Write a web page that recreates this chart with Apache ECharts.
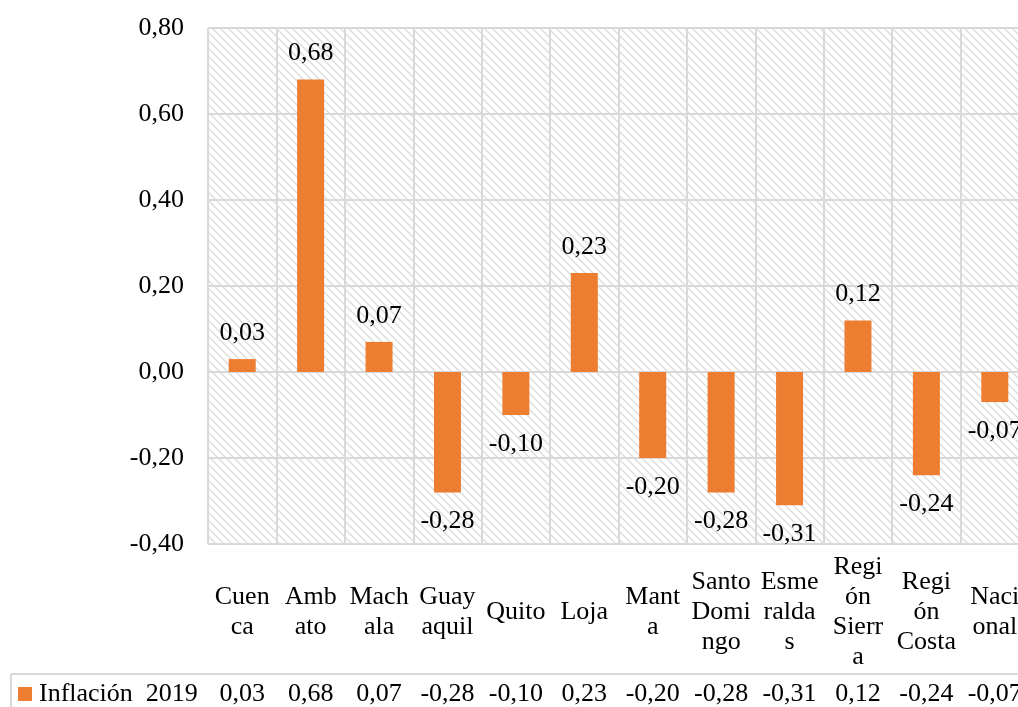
<!DOCTYPE html>
<html>
<head>
<meta charset="utf-8">
<style>
  html, body { margin: 0; padding: 0; background: #ffffff; overflow: hidden; }
  #chart { width: 1029px; height: 707px; }
</style>
<script src="https://cdn.jsdelivr.net/npm/echarts@6/dist/echarts.min.js"></script>
</head>
<body>
<div id="chart"></div>
<script>
// Inflación anual 2019 por ciudad y región
const categories = ['Cuenca', 'Ambato', 'Machala', 'Guayaquil', 'Quito', 'Loja', 'Manta',
  'Santo Domingo', 'Esmeraldas', 'Región Sierra', 'Región Costa', 'Nacional'];
const categoryLabels = ['Cuen\nca', 'Amb\nato', 'Mach\nala', 'Guay\naquil', 'Quito', 'Loja', 'Mant\na',
  'Santo\nDomi\nngo', 'Esme\nralda\ns', 'Regi\nón\nSierr\na', 'Regi\nón\nCosta', 'Naci\nonal'];
const inflacion2019 = [0.03, 0.68, 0.07, -0.28, -0.10, 0.23, -0.20, -0.28, -0.31, 0.12, -0.24, -0.07];
const seriesName = 'Inflación 2019';
const yTicks = { min: -0.4, max: 0.8, interval: 0.2 };

const fmt = v => v.toFixed(2).replace('.', ',');
const FONT = '"Liberation Serif", "Times New Roman", serif';
const GRID_COLOR = '#d9d9d9';

// diagonal hatch tile for the plot background
function hatchTile() {
  const c = document.createElement('canvas');
  c.width = 8; c.height = 8;
  const g = c.getContext('2d');
  g.fillStyle = '#ffffff';
  g.fillRect(0, 0, 8, 8);
  g.strokeStyle = '#dedede';
  g.lineWidth = 1.5;
  g.beginPath();
  g.moveTo(-1, -1); g.lineTo(9, 9);
  g.moveTo(-1, 7); g.lineTo(1, 9);
  g.moveTo(7, -1); g.lineTo(9, 1);
  g.stroke();
  return c;
}

const chart = echarts.init(document.getElementById('chart'), null, { renderer: 'canvas' });

chart.setOption({
  animation: false,
  textStyle: { fontFamily: FONT },
  grid: {
    left: 208, top: 28, right: 0, bottom: 162,
    show: true,
    borderWidth: 0,
    backgroundColor: { image: hatchTile(), repeat: 'repeat' }
  },
  legend: {
    show: true,
    left: 18, top: 681,
    icon: 'rect',
    itemWidth: 14, itemHeight: 14, itemGap: 0,
    padding: 0,
    textStyle: { fontFamily: FONT, fontSize: 26, color: '#000', padding: [0, 0, 0, 2] },
    formatter: () => 'Inflación  2019',
    data: [seriesName]
  },
  xAxis: [
    {
      type: 'category',
      data: categories,
      position: 'bottom',
      axisLine: { show: true, lineStyle: { color: GRID_COLOR, width: 2 } },
      axisTick: { show: true, length: 162, lineStyle: { color: GRID_COLOR, width: 2 } },
      splitLine: { show: true, lineStyle: { color: GRID_COLOR, width: 2 } },
      axisLabel: {
        interval: 0,
        margin: 68,
        verticalAlign: 'middle',
        lineHeight: 30,
        fontFamily: FONT, fontSize: 26, color: '#000',
        formatter: (v, i) => categoryLabels[i]
      }
    },
    {
      type: 'category',
      data: inflacion2019.map(fmt),
      position: 'bottom',
      offset: 129,
      axisLine: { show: false },
      axisTick: { show: false },
      splitLine: { show: false },
      axisLabel: {
        interval: 0,
        margin: 21,
        verticalAlign: 'middle',
        fontFamily: FONT, fontSize: 26, color: '#000'
      }
    }
  ],
  yAxis: {
    type: 'value',
    min: yTicks.min, max: yTicks.max, interval: yTicks.interval,
    axisLine: { show: false },
    axisTick: { show: false },
    splitLine: { show: true, lineStyle: { color: GRID_COLOR, width: 2 } },
    axisLabel: {
      margin: 24,
      fontFamily: FONT, fontSize: 26, color: '#000',
      formatter: v => fmt(v)
    }
  },
  series: [{
    name: seriesName,
    type: 'bar',
    xAxisIndex: 0,
    barWidth: 27,
    itemStyle: { color: '#ed7d31' },
    data: inflacion2019.map(v => ({
      value: v,
      label: { position: v < 0 ? 'bottom' : 'top', distance: v < 0 ? 16 : 13 }
    })),
    label: {
      show: true,
      fontFamily: FONT, fontSize: 26, color: '#000',
      formatter: p => fmt(p.value)
    }
  }],
  graphic: [
    { type: 'line', shape: { x1: 11, y1: 674, x2: 1029, y2: 674 }, style: { stroke: GRID_COLOR, lineWidth: 2 }, silent: true },
    { type: 'line', shape: { x1: 11, y1: 674, x2: 11, y2: 707 }, style: { stroke: GRID_COLOR, lineWidth: 2 }, silent: true }
  ]
});
</script>
</body>
</html>
